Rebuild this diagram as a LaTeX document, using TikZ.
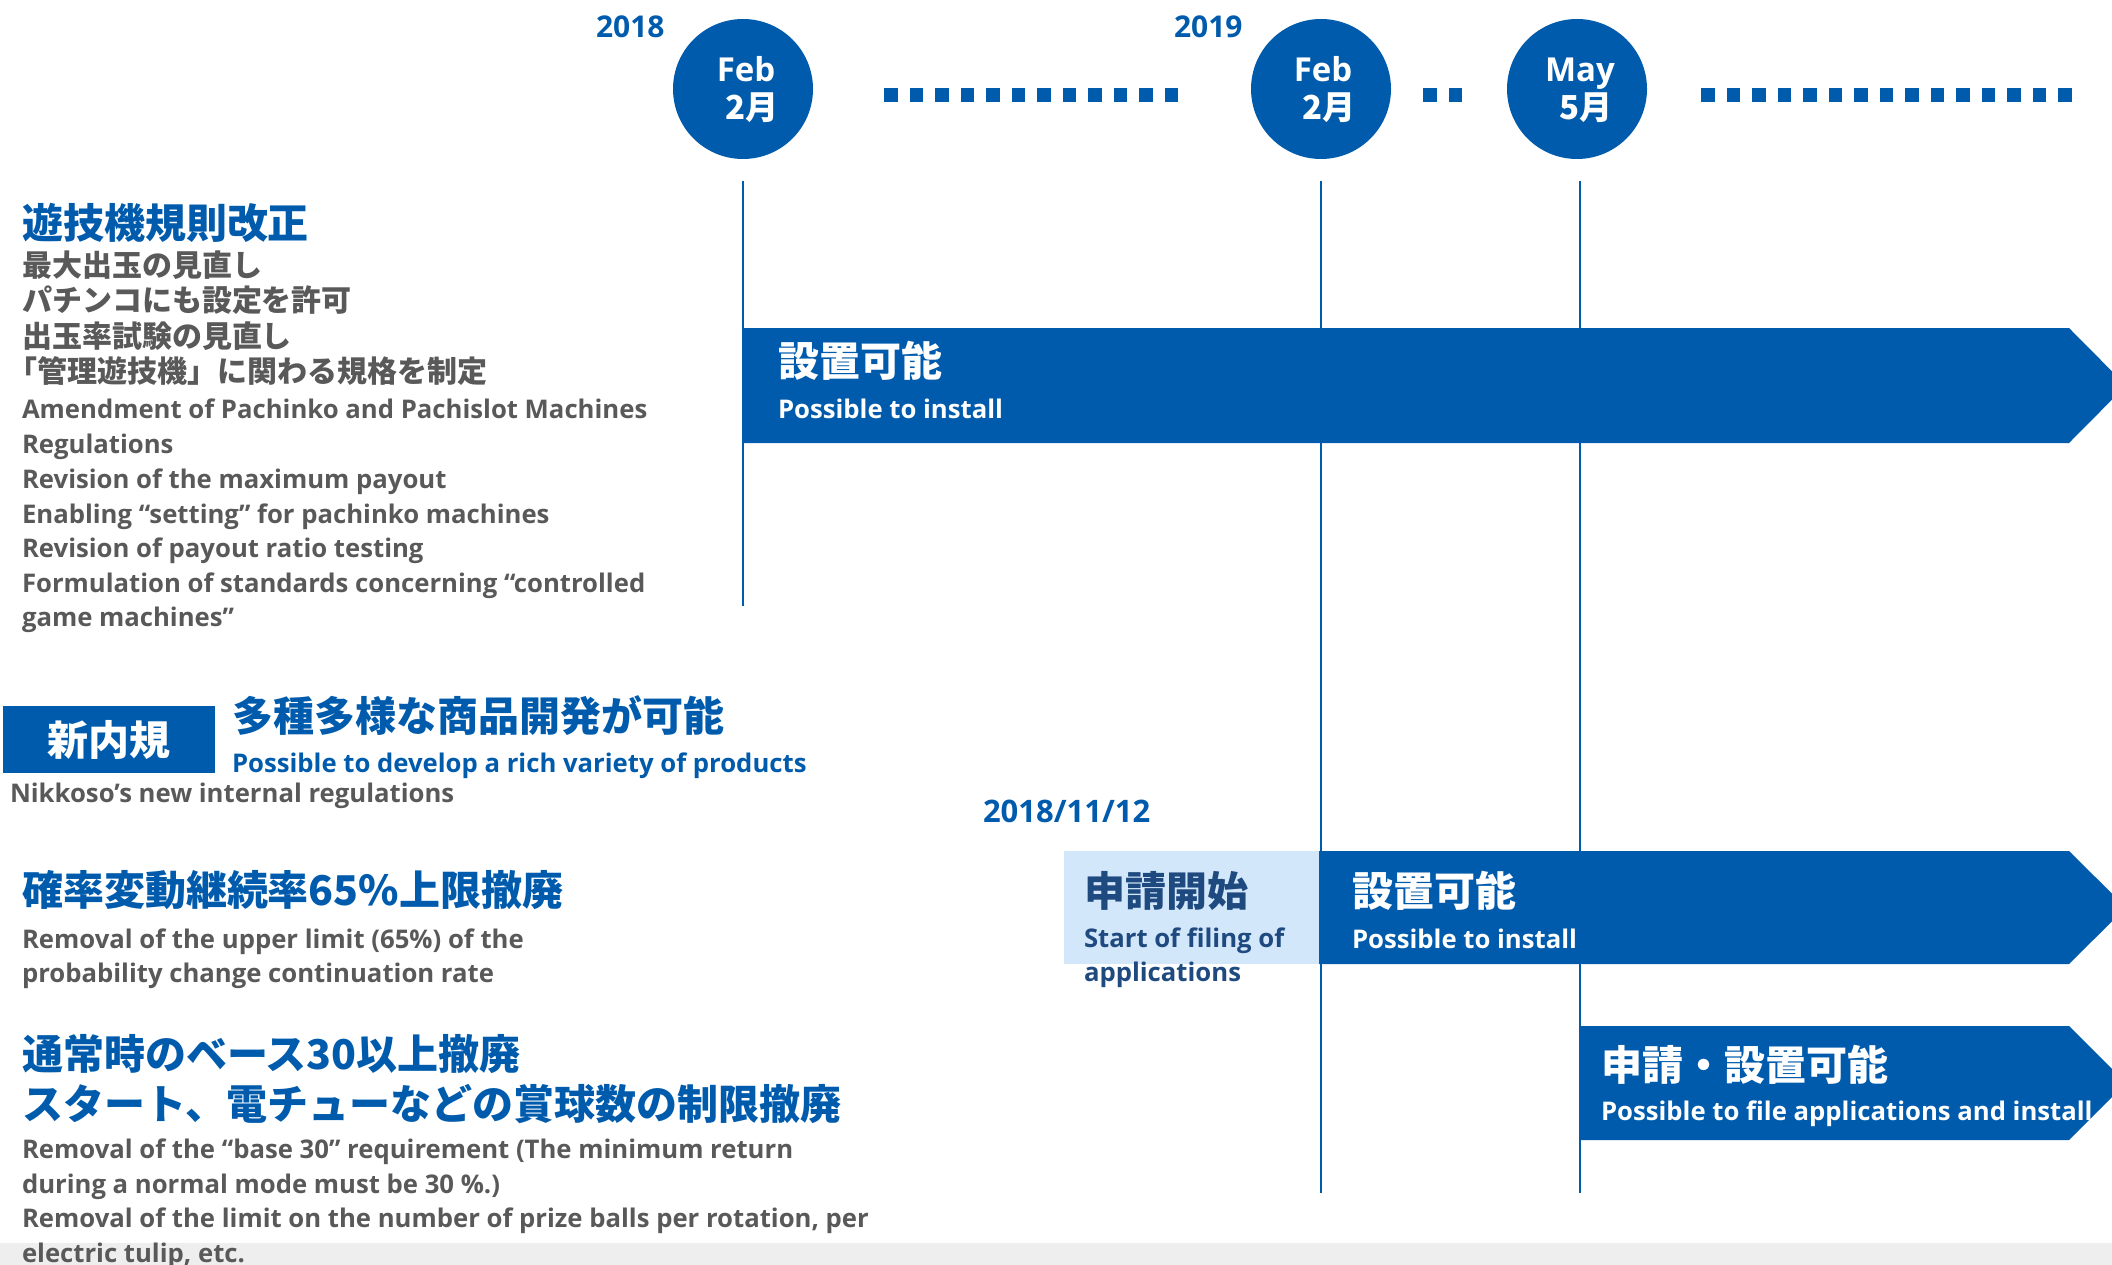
\documentclass[tikz,border=0pt]{standalone}
\usepackage{fontspec}
\setmainfont{Open Sans}
\newfontfamily\cjk{Noto Sans CJK JP}
\definecolor{mblue}{HTML}{005BAC}
\definecolor{navy}{HTML}{1F4A80}
\definecolor{tgray}{HTML}{595959}
\definecolor{lightb}{HTML}{D3E7FB}
\definecolor{bandgray}{HTML}{EEEEEE}
\tikzset{
  every node/.style={inner sep=0pt, outer sep=0pt},
  lat/.style={font=\fontsize{25.7}{30}\selectfont\bfseries, anchor=base west},
  latyear/.style={font=\fontsize{30}{34}\selectfont\bfseries, anchor=base west, text=mblue},
  jph/.style={font=\cjk\fontsize{41}{46}\selectfont\bfseries, anchor=base west},
  jps/.style={font=\cjk\fontsize{30}{35}\selectfont\bfseries, anchor=base west, text=tgray},
  gtxt/.style={lat, text=tgray},
  btxt/.style={lat, text=mblue},
  wtxt/.style={lat, text=white},
  circ/.style={circle, fill=mblue, minimum size=140pt},
  month/.style={font=\fontsize{33}{38}\selectfont\bfseries, text=white, anchor=base},
  monthjp/.style={font=\cjk\fontsize{33}{36}\selectfont\bfseries, text=white, anchor=base},
  vline/.style={draw=mblue, line width=2.5pt},
  dots/.style={draw=mblue, line width=13.5pt, dash pattern=on 13.5pt off 12pt},
  band/.style={fill=mblue}
}
\begin{document}
\begin{tikzpicture}[x=1pt,y=-1pt]
\useasboundingbox (0,0) rectangle (2112,1265);
\clip (0,0) rectangle (2112,1265);
\fill[bandgray] (0,1243) rectangle (2112,1265);

% timeline circles
\node[circ] (c1) at (743,89) {};
\node[circ] (c2) at (1321,89) {};
\node[circ] (c3) at (1577,89) {};
\node[month] (m1) at (746,82) {Feb};
\node[monthjp] (j1) at (752,120) {2月};
\node[month] (m2) at (1323,82) {Feb};
\node[monthjp] (j2) at (1329,120) {2月};
\node[month] (m3) at (1580,82) {May};
\node[monthjp] (j3) at (1586,120) {5月};
\node[latyear] (y1) at (596,38) {2018};
\node[latyear] (y2) at (1174,38) {2019};

% dotted segments
\draw[dots] (884,95) -- (1179,95);
\draw[dots] (1423,95) -- (1463,95);
\draw[dots] (1701,95) -- (2072,95);

% vertical lines
\draw[vline] ([yshift=-92pt]c1.center) -- (c1.center |- 0,606);
\draw[vline] ([yshift=-92pt]c2.center) -- (c2.center |- 0,1193);
\draw[vline] ([xshift=3pt,yshift=-92pt]c3.center) -- ([xshift=3pt]c3.center |- 0,1193);

% arrows
\fill[band] (743,328) -- (2069,328) -- (2126,385.5) -- (2069,443) -- (743,443) -- cycle;
\fill[lightb] (1064,851) rectangle (1319,964);
\fill[band] (1319,851) -- (2069,851) -- (2126,907.5) -- (2069,964) -- (1319,964) -- cycle;
\fill[band] (1580,1026) -- (2069,1026) -- (2126,1083) -- (2069,1140) -- (1580,1140) -- cycle;

\node[jph, text=white] (a1j) at (778,376) {設置可能};
\node[wtxt] (a1e) at (778,418) {Possible to install};
\node[jph, text=navy] (sj) at (1084,906) {申請開始};
\node[lat, text=navy] (se1) at (1084,947) {Start of filing of};
\node[lat, text=navy] (se2) at (1084,981) {applications};
\node[jph, text=white] (a2j) at (1352,906) {設置可能};
\node[wtxt] (a2e) at (1352,948) {Possible to install};
\node[jph, text=white] (a3j) at (1601,1080) {申請・設置可能};
\node[wtxt] (a3e) at (1601,1120) {Possible to file applications and install};
\node[latyear, font=\fontsize{31}{34}\selectfont\bfseries] (d1) at (983,822) {2018/11/12};

% left block 1
\node[jph, text=mblue] (h1) at (22,239) {遊技機規則改正};
\node[jps] (g1) at (22,277) {最大出玉の見直し};
\node[jps] (g2) at (22,312) {パチンコにも設定を許可};
\node[jps] (g3) at (22,347) {出玉率試験の見直し};
\node[jps] (g4) at (8,382) {「管理遊技機」に関わる規格を制定};
\node[gtxt] (e1) at (22,418) {Amendment of Pachinko and Pachislot Machines};
\node[gtxt] (e2) at (22,453) {Regulations};
\node[gtxt] (e3) at (22,488) {Revision of the maximum payout};
\node[gtxt] (e4) at (22,523) {Enabling “setting” for pachinko machines};
\node[gtxt] (e5) at (22,557) {Revision of payout ratio testing};
\node[gtxt] (e6) at (22,592) {Formulation of standards concerning “controlled};
\node[gtxt] (e7) at (22,626) {game machines”};

% new internal regulations
\node[fill=mblue, minimum width=212pt, minimum height=67pt] (nb) at (109,739.5) {};
\node[font=\cjk\fontsize{41}{46}\selectfont\bfseries, text=white] (nbt) at (nb.center) {新内規};
\node[jph, text=mblue] (h2) at (232,731) {多種多様な商品開発が可能};
\node[btxt] (h2e) at (232,772) {Possible to develop a rich variety of products};
\node[gtxt] (nk) at (10,802) {Nikkoso’s new internal regulations};

% lower left
\node[jph, text=mblue] (h3) at (22,905) {確率変動継続率65\%上限撤廃};
\node[gtxt] (h3a) at (22,948) {Removal of the upper limit (65\%) of the};
\node[gtxt] (h3b) at (22,982) {probability change continuation rate};
\node[jph, text=mblue] (h4) at (22,1069) {通常時のベース30以上撤廃};
\node[jph, text=mblue] (h5) at (22,1119) {スタート、電チューなどの賞球数の制限撤廃};
\node[gtxt] (h5a) at (22,1158) {Removal of the “base 30” requirement (The minimum return};
\node[gtxt] (h5b) at (22,1193) {during a normal mode must be 30 \%.)};
\node[gtxt] (h5c) at (22,1227) {Removal of the limit on the number of prize balls per rotation, per};
\node[gtxt] (h5d) at (22,1262) {electric tulip, etc.};
\end{tikzpicture}
\end{document}
